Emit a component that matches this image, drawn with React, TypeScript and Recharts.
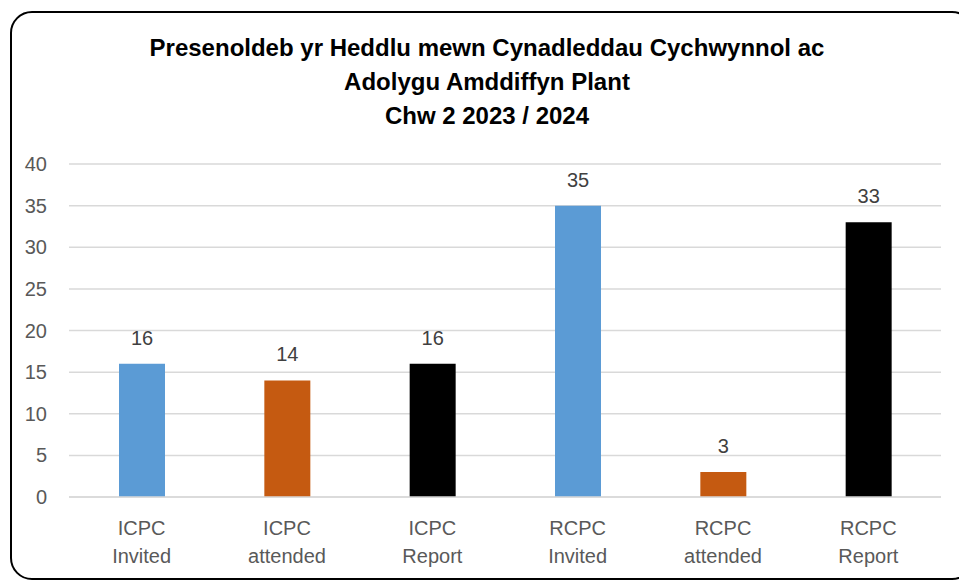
import { BarChart, Bar, XAxis, YAxis, CartesianGrid, Cell, LabelList } from 'recharts';

const categories = ['ICPC Invited', 'ICPC attended', 'ICPC Report', 'RCPC Invited', 'RCPC attended', 'RCPC Report'];
const values = [16, 14, 16, 35, 3, 33];
const colors = ['#5B9BD5', '#C55A11', '#000000', '#5B9BD5', '#C55A11', '#000000'];
const yTicks = [0, 5, 10, 15, 20, 25, 30, 35, 40];
const titleLines = [
  'Presenoldeb yr Heddlu mewn Cynadleddau Cychwynnol ac',
  'Adolygu Amddiffyn Plant',
  'Chw 2 2023 / 2024',
];

const data = categories.map((name, i) => ({ name, value: values[i], color: colors[i] }));

const FONT = '"Liberation Sans", Arial, sans-serif';

function CategoryTick({ x, y, payload }: any) {
  const words = String(payload.value).split(' ');
  return (
    <text x={x} y={y} textAnchor="middle" fill="#595959" fontSize={20} fontFamily={FONT}>
      <tspan x={x} dy={30}>{words[0]}</tspan>
      <tspan x={x} dy={28}>{words.slice(1).join(' ')}</tspan>
    </text>
  );
}

export default function App() {
  return (
    <div style={{ position: 'absolute', left: 0, top: 0, width: 959, height: 581, overflow: 'hidden', background: '#fff' }}>
      <div
        style={{
          position: 'absolute',
          left: 10,
          top: 11,
          width: 960,
          height: 565,
          border: '2px solid #000',
          borderRadius: 22,
        }}
      />
      <div
        style={{
          position: 'absolute',
          left: 0,
          top: 31,
          width: 974,
          textAlign: 'center',
          fontFamily: FONT,
          fontWeight: 'bold',
          fontSize: 24,
          lineHeight: '34px',
          color: '#000',
        }}
      >
        {titleLines.map((t) => (
          <div key={t}>{t}</div>
        ))}
      </div>
      <div style={{ position: 'absolute', left: 0, top: 0 }}>
        <BarChart width={959} height={581} data={data} margin={{ top: 164, right: 18, left: 9, bottom: 24 }}>
          <CartesianGrid vertical={false} stroke="#d9d9d9" strokeWidth={1.5} />
          <XAxis
            dataKey="name"
            axisLine={{ stroke: '#d9d9d9', strokeWidth: 1.5 }}
            tickLine={false}
            height={60}
            interval={0}
            tick={<CategoryTick />}
          />
          <YAxis
            domain={[0, 40]}
            ticks={yTicks}
            width={60}
            axisLine={false}
            tickLine={false}
            tickMargin={16}
            tick={{ fill: '#595959', fontSize: 20, fontFamily: FONT }}
          />
          <Bar dataKey="value" barSize={46} isAnimationActive={false}>
            {data.map((d, i) => (
              <Cell key={`c-${i}`} fill={d.color} />
            ))}
            <LabelList dataKey="value" position="top" offset={19} fill="#404040" fontSize={20} fontFamily={FONT} />
          </Bar>
        </BarChart>
      </div>
    </div>
  );
}
